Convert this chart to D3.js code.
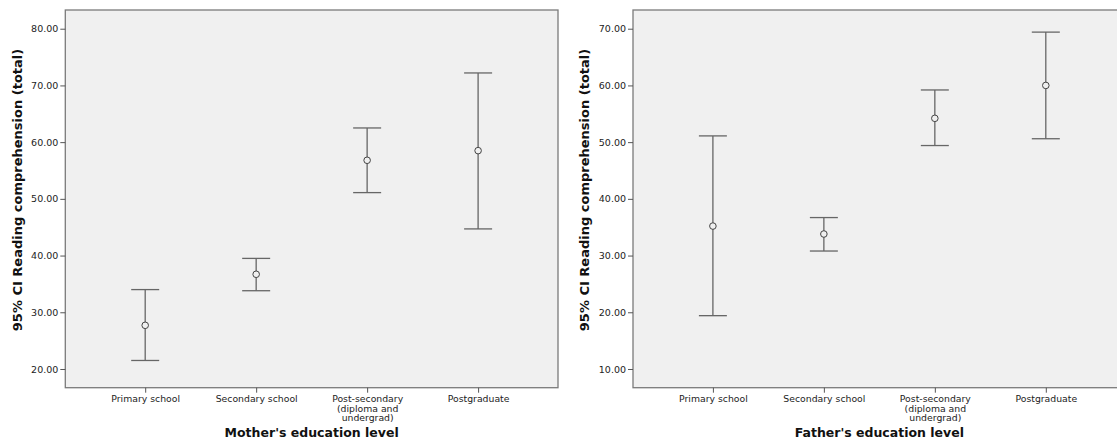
<!DOCTYPE html>
<html>
<head>
<meta charset="utf-8">
<script src="https://cdn.jsdelivr.net/npm/d3@7"></script>
<style>
  body { margin: 0; background: #fff; }
  svg { display: block; }
</style>
</head>
<body>
<div id="vis"></div>
<script>
// categories on the x axis (\n = line break)
const categories = ["Primary school", "Secondary school", "Post-secondary\n(diploma and\nundergrad)", "Postgraduate"];

// mother's education: mean and 95% CI
const motherMean  = [27.7, 36.7, 56.8, 58.5];
const motherLower = [21.5, 33.8, 51.1, 44.7];
const motherUpper = [34.0, 39.5, 62.5, 72.2];
const motherTicks = [20, 30, 40, 50, 60, 70, 80];

// father's education: mean and 95% CI
const fatherMean  = [35.2, 33.8, 54.2, 60.0];
const fatherLower = [19.4, 30.8, 49.4, 50.6];
const fatherUpper = [51.1, 36.7, 59.2, 69.4];
const fatherTicks = [10, 20, 30, 40, 50, 60, 70];

const yTitle = "95% CI Reading comprehension (total)";
const font = '"DejaVu Sans", Verdana, sans-serif';

const W = 1117, H = 447;
const svg = d3.select("#vis").append("svg")
    .attr("width", W)
    .attr("height", H);

function panel(opts) {
    const top = 10, bottom = 387.7;
    const x = d3.scalePoint()
        .domain(categories)
        .range([opts.left, opts.right])
        .padding(0.72);
    const y = d3.scaleLinear()
        .domain(opts.domain)
        .range([bottom, top]);

    const g = svg.append("g");

    // plot background and frame
    g.append("rect")
        .attr("x", opts.left)
        .attr("y", top)
        .attr("width", opts.right - opts.left)
        .attr("height", bottom - top)
        .attr("fill", "#f0f0f0")
        .attr("stroke", "#7a7a7a")
        .attr("stroke-width", 1.3);

    // y axis
    const ya = g.append("g")
        .attr("transform", `translate(${opts.left},0)`)
        .call(d3.axisLeft(y).tickValues(opts.ticks).tickFormat(d3.format(".2f")).tickSize(5).tickPadding(2));
    ya.select(".domain").remove();
    ya.selectAll(".tick line").attr("stroke", "#555");
    ya.selectAll(".tick text")
        .style("font-family", font)
        .style("font-size", "9.5px")
        .attr("fill", "#222");

    // x axis
    const xa = g.append("g")
        .attr("transform", `translate(0,${bottom})`)
        .call(d3.axisBottom(x).tickSize(5).tickPadding(3));
    xa.select(".domain").remove();
    xa.selectAll(".tick line").attr("stroke", "#555");
    xa.selectAll(".tick text")
        .style("font-family", font)
        .style("font-size", "9.3px")
        .attr("fill", "#222")
        .each(function (d) {
            const t = d3.select(this);
            const lines = d.split("\n");
            t.text(null);
            lines.forEach((ln, i) => {
                t.append("tspan")
                    .attr("x", 0)
                    .attr("dy", i === 0 ? "0.71em" : "1.0em")
                    .text(ln);
            });
        })
        .attr("dy", null);

    // error bars
    const data = categories.map((c, i) => ({
        cat: c, mean: opts.mean[i], lo: opts.lower[i], hi: opts.upper[i]
    }));
    const cap = 14;
    const bars = g.append("g").selectAll("g").data(data).join("g");
    bars.append("line")
        .attr("x1", d => x(d.cat)).attr("x2", d => x(d.cat))
        .attr("y1", d => y(d.lo)).attr("y2", d => y(d.hi))
        .attr("stroke", "#666").attr("stroke-width", 1.3);
    bars.append("line")
        .attr("x1", d => x(d.cat) - cap).attr("x2", d => x(d.cat) + cap)
        .attr("y1", d => y(d.hi)).attr("y2", d => y(d.hi))
        .attr("stroke", "#666").attr("stroke-width", 1.3);
    bars.append("line")
        .attr("x1", d => x(d.cat) - cap).attr("x2", d => x(d.cat) + cap)
        .attr("y1", d => y(d.lo)).attr("y2", d => y(d.lo))
        .attr("stroke", "#666").attr("stroke-width", 1.3);
    bars.append("circle")
        .attr("cx", d => x(d.cat))
        .attr("cy", d => y(d.mean))
        .attr("r", 3.3)
        .attr("fill", "#f0f0f0")
        .attr("stroke", "#444")
        .attr("stroke-width", 1);

    // axis titles
    g.append("text")
        .attr("transform", `translate(${opts.yTitleX},190) rotate(-90)`)
        .attr("text-anchor", "middle")
        .attr("dy", "0.35em")
        .style("font-family", font)
        .style("font-size", "13px")
        .style("font-weight", "bold")
        .attr("fill", "#111")
        .text(yTitle);

    g.append("text")
        .attr("x", (opts.left + opts.right) / 2)
        .attr("y", 437)
        .attr("text-anchor", "middle")
        .style("font-family", font)
        .style("font-size", "12.5px")
        .style("font-weight", "bold")
        .attr("fill", "#111")
        .text(opts.xTitle);
}

panel({
    left: 65.3, right: 558, domain: [16.7, 83.3], ticks: motherTicks,
    mean: motherMean, lower: motherLower, upper: motherUpper,
    yTitleX: 17.5, xTitle: "Mother's education level"
});

panel({
    left: 633, right: 1125.7, domain: [6.7, 73.3], ticks: fatherTicks,
    mean: fatherMean, lower: fatherLower, upper: fatherUpper,
    yTitleX: 584, xTitle: "Father's education level"
});
</script>
</body>
</html>
